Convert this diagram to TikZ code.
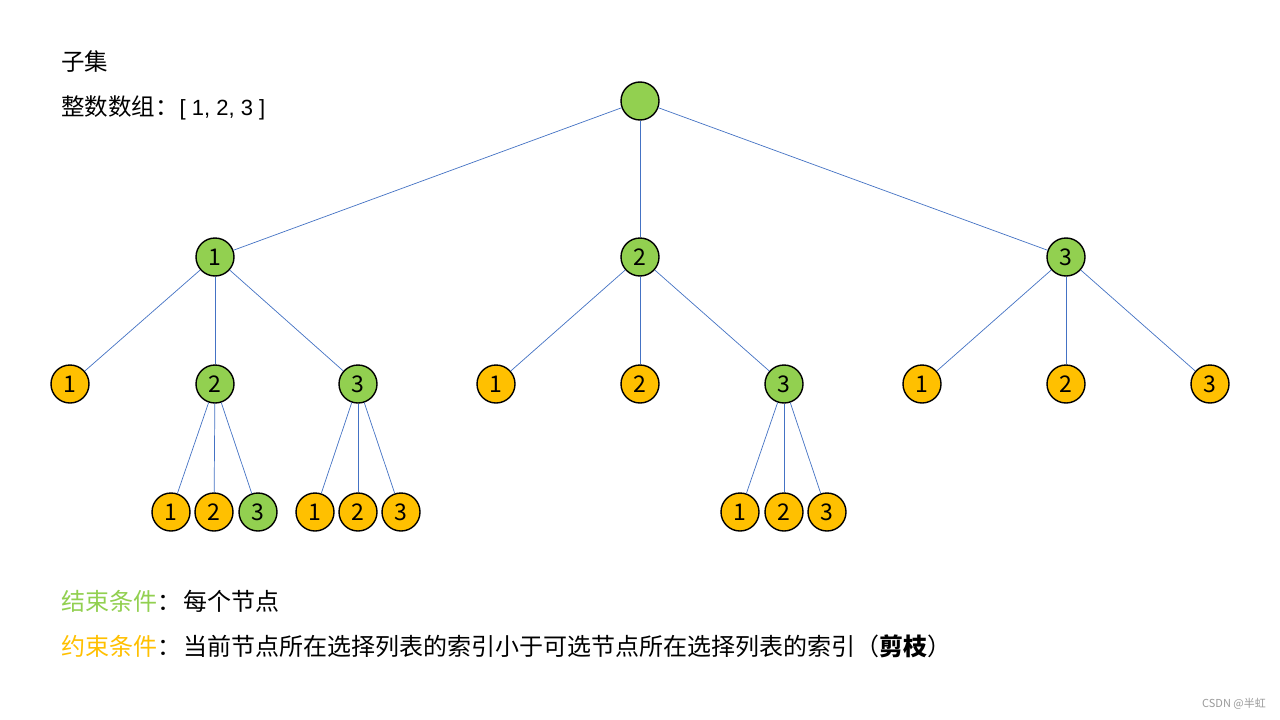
\documentclass[tikz,border=0pt]{standalone}
\usepackage{fontspec}
\setmainfont{Noto Sans CJK SC}
\newfontfamily\latinf{Liberation Sans}
\definecolor{ngreen}{HTML}{92D050}
\definecolor{nyellow}{HTML}{FFC000}
\definecolor{edgeblue}{HTML}{4472C4}
\definecolor{wm}{HTML}{9A9A9A}
\begin{document}
\begin{tikzpicture}[x=1pt,y=-1pt,
  nd/.style={circle,draw=black,line width=1.4pt,minimum size=38pt,inner sep=0pt,font=\fontsize{23}{26}\selectfont},
  gn/.style={nd,fill=ngreen},
  yn/.style={nd,fill=nyellow},
  edge/.style={draw=edgeblue,line width=0.7pt},
  txt/.style={anchor=west,inner sep=0pt,font=\fontsize{23.5}{27}\selectfont},
  btxt/.style={anchor=west,inner sep=0pt,font=\fontsize{24}{27}\selectfont}]
\useasboundingbox (0,0) rectangle (1280,720);
\fill[white] (0,0) rectangle (1280,720);
% texts
\node[txt] (t1) at (61,62) {子集};
\node[txt] (t2) at (61,108) {整数数组：\hspace{1pt}{\latinf\fontsize{22}{26}\selectfont[ 1, 2, 3 ]}};
\node[btxt] (t3) at (61,601) {\textcolor{ngreen}{结束条件}：\hspace{2pt}每个节点};
\node[btxt] (t4) at (61,646) {\textcolor{nyellow}{约束条件}：\hspace{2pt}当前节点所在选择列表的索引小于可选节点所在选择列表的索引（\textbf{剪枝}）};
\node[anchor=east,inner sep=0pt,text=wm,font=\fontsize{11}{12}\selectfont] (wm) at (1266,704) {CSDN @半虹};
% nodes
\node[gn] (r) at (640,101) {};
\node[gn] (a) at (215,257) {1};
\node[gn] (b) at (640,257) {2};
\node[gn] (c) at (1066,257) {3};
\node[yn] (a1) at (70,384) {1};
\node[gn] (a2) at (215,384) {2};
\node[gn] (a3) at (358,384) {3};
\node[yn] (b1) at (496,384) {1};
\node[yn] (b2) at (640,384) {2};
\node[gn] (b3) at (784,384) {3};
\node[yn] (c1) at (922,384) {1};
\node[yn] (c2) at (1066,384) {2};
\node[yn] (c3) at (1210,384) {3};
\node[yn] (a21) at (171,512) {1};
\node[yn] (a22) at (214,512) {2};
\node[gn] (a23) at (258,512) {3};
\node[yn] (a31) at (315,512) {1};
\node[yn] (a32) at (358,512) {2};
\node[yn] (a33) at (401,512) {3};
\node[yn] (b31) at (740,512) {1};
\node[yn] (b32) at (784,512) {2};
\node[yn] (b33) at (827,512) {3};
% edges
\foreach \p/\q in {r/a,r/b,r/c,a/a1,a/a2,a/a3,b/b1,b/b2,b/b3,c/c1,c/c2,c/c3,a2/a21,a2/a22,a2/a23,a3/a31,a3/a32,a3/a33,b3/b31,b3/b32,b3/b33}
  \path[edge] (\p) -- (\q);
\end{tikzpicture}
\end{document}
